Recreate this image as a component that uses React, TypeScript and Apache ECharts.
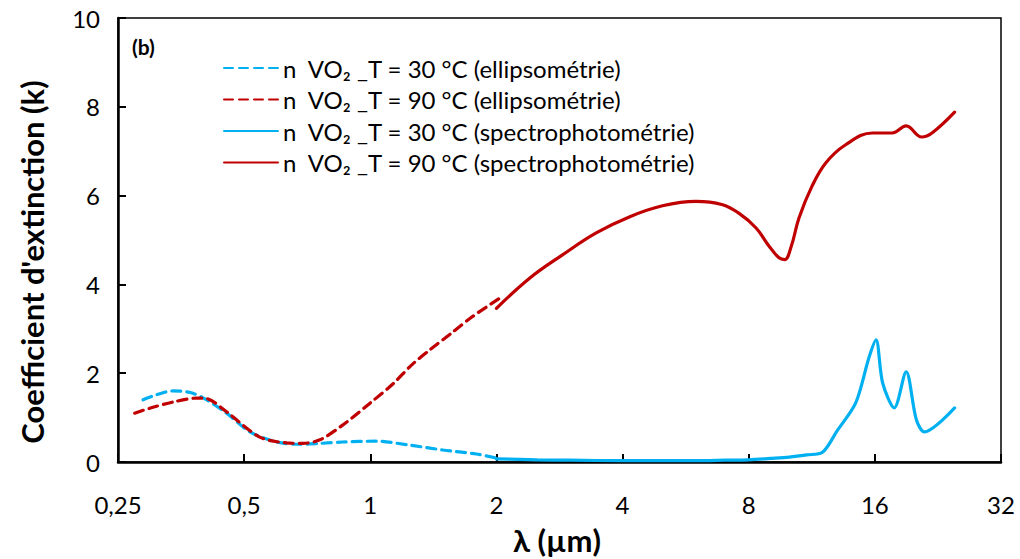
import React, { useEffect, useRef } from "react";
import * as echarts from "echarts";

const xTicks = [0.25, 0.5, 1, 2, 4, 8, 16, 32];
const yTicks = [0, 2, 4, 6, 8, 10];

const lambdaEll30 = [0.287, 0.31, 0.338, 0.37, 0.4, 0.454, 0.516, 0.598, 0.679, 0.76, 0.859, 1.035, 1.24, 1.49, 1.79, 2.0];
const kEll30 = [1.4, 1.52, 1.6, 1.57, 1.44, 1.1, 0.68, 0.45, 0.4, 0.42, 0.45, 0.47, 0.38, 0.27, 0.18, 0.09];

const lambdaEll90 = [0.274, 0.3, 0.338, 0.386, 0.41, 0.454, 0.545, 0.632, 0.69, 0.758, 0.859, 1.0, 1.13, 1.26, 1.385, 1.56, 1.75, 2.03];
const kEll90 = [1.1, 1.22, 1.35, 1.44, 1.42, 1.13, 0.56, 0.43, 0.42, 0.5, 0.83, 1.33, 1.75, 2.2, 2.52, 2.9, 3.27, 3.68];

const lambdaSpec30 = [2.0, 2.5, 3.0, 4.0, 5.0, 6.0, 7.0, 8.0, 9.0, 10.0, 11.0, 12.0, 13.0, 14.4, 15.5, 16.1, 16.7, 17.8, 19.0, 20.1, 21.0, 24.8];
const kSpec30 = [0.07, 0.05, 0.04, 0.03, 0.03, 0.03, 0.04, 0.05, 0.08, 0.11, 0.16, 0.22, 0.7, 1.33, 2.36, 2.75, 1.78, 1.22, 2.03, 0.95, 0.68, 1.22];

const lambdaSpec90 = [2.0, 2.4, 2.87, 3.46, 4.15, 4.98, 5.99, 6.9, 7.59, 8.33, 8.95, 9.45, 9.75, 10.1, 10.55, 11.3, 12.2, 13.6, 15.8, 17.6, 19.0, 20.7, 21.9, 24.8];
const kSpec90 = [3.46, 4.14, 4.66, 5.16, 5.52, 5.77, 5.87, 5.8, 5.6, 5.27, 4.86, 4.6, 4.56, 4.85, 5.5, 6.19, 6.73, 7.14, 7.41, 7.41, 7.57, 7.32, 7.41, 7.88];

const seriesNames = [
  "n  VO₂ _T = 30 °C (ellipsométrie)",
  "n  VO₂ _T = 90 °C (ellipsométrie)",
  "n  VO₂ _T = 30 °C (spectrophotométrie)",
  "n  VO₂ _T = 90 °C (spectrophotométrie)",
];

const BLUE = "#00B0F0";
const RED = "#C00000";
const FONT = "Lato, 'Open Sans', sans-serif";

function pairs(xs: number[], ys: number[]) {
  return xs.map((x, i) => [x, ys[i]]);
}

export default function App() {
  const ref = useRef<HTMLDivElement>(null);
  useEffect(() => {
    if (!ref.current) return;
    const chart = echarts.init(ref.current, undefined, { renderer: "svg" });
    const mk = (name: string, data: number[][], color: string, dashed: boolean, smooth = 0.3) => ({
      name,
      type: "line",
      data,
      smooth,
      symbol: "none",
      lineStyle: { color, width: 3.2, type: dashed ? [9, 6] : "solid", cap: "round" },
      itemStyle: { color },
    });
    chart.setOption({
      animation: false,
      backgroundColor: "#fff",
      grid: {
        left: 118,
        right: 19,
        top: 18,
        bottom: 97,
        show: true,
        borderColor: "#000",
        borderWidth: 1.5,
      },
      legend: {
        orient: "vertical",
        left: 218,
        top: 51,
        itemWidth: 54,
        itemHeight: 14,
        itemGap: 7.5,
        itemStyle: { opacity: 0 },
        textStyle: { fontFamily: FONT, fontSize: 24, color: "#000" },
        data: seriesNames,
      },
      graphic: [
        {
          type: "text",
          left: 132,
          top: 36,
          style: { text: "(b)", fontFamily: FONT, fontSize: 21, fontWeight: "bold", fill: "#000" },
        },
        {
          type: "text",
          x: 32,
          y: 262,
          rotation: Math.PI / 2,
          style: {
            text: "Coefficient d'extinction (k)",
            fontFamily: FONT,
            fontSize: 31,
            fontWeight: "bold",
            fill: "#000",
            align: "center",
            verticalAlign: "middle",
          },
        },
        {
          type: "text",
          x: 557,
          y: 540,
          style: {
            text: "λ (µm)",
            fontFamily: FONT,
            fontSize: 31,
            fontWeight: "bold",
            fill: "#000",
            align: "center",
            verticalAlign: "middle",
          },
        },
      ],
      xAxis: {
        type: "log",
        logBase: 2,
        min: xTicks[0],
        max: xTicks[xTicks.length - 1],
        axisLine: { lineStyle: { color: "#000", width: 2.5 } },
        axisTick: { inside: true, length: 8, lineStyle: { color: "#000", width: 2 } },
        splitLine: { show: false },
        minorTick: { show: false },
        axisLabel: {
          fontFamily: FONT,
          fontSize: 24,
          color: "#000",
          margin: 30,
          formatter: (v: number) => {
            const t = xTicks.find((k) => Math.abs(k - v) / k < 1e-6);
            return t === undefined ? "" : String(t).replace(".", ",");
          },
        },
      },
      yAxis: {
        type: "value",
        min: yTicks[0],
        max: yTicks[yTicks.length - 1],
        interval: 2,
        axisLine: { show: true, lineStyle: { color: "#000", width: 2.5 } },
        axisTick: { show: true, inside: true, length: 8, lineStyle: { color: "#000", width: 2 } },
        splitLine: { show: false },
        axisLabel: { fontFamily: FONT, fontSize: 24, color: "#000", margin: 18 },
      },
      series: [
        mk(seriesNames[0], pairs(lambdaEll30, kEll30), BLUE, true),
        mk(seriesNames[1], pairs(lambdaEll90, kEll90), RED, true),
        mk(seriesNames[2], pairs(lambdaSpec30, kSpec30), BLUE, false),
        mk(seriesNames[3], pairs(lambdaSpec90, kSpec90), RED, false, 0.4),
      ],
    });
    return () => chart.dispose();
  }, []);
  return <div ref={ref} style={{ width: 1020, height: 559, position: "absolute", left: 0, top: 0 }} />;
}
